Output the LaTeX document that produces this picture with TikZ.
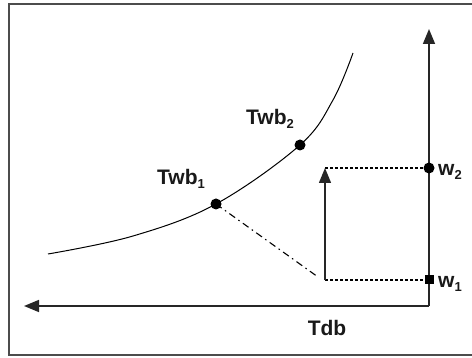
\documentclass[tikz,border=0pt]{standalone}
\usepackage{fontspec}
\setmainfont{Liberation Sans}
\usetikzlibrary{arrows.meta}
\newcommand{\lowsub}[1]{\raisebox{-0.35ex}{\fontsize{13}{14}\selectfont #1}}
\begin{document}
\begin{tikzpicture}[x=1pt,y=-1pt,
  axis/.style={draw=black!85,line width=1.6pt},
  tip/.style={-{Triangle[length=15pt,width=12pt]}},
  curveline/.style={draw=black,line width=1pt},
  dotline/.style={draw=black,line width=1.1pt,dash pattern=on 3pt off 2pt},
  dashdotline/.style={draw=black,line width=1.1pt,dash pattern=on 7pt off 4pt on 1.5pt off 4pt},
  dot/.style={circle,fill=black,inner sep=0pt,minimum size=11pt},
  sq/.style={rectangle,fill=black,inner sep=0pt,minimum size=9pt},
  lbl/.style={font=\fontsize{21}{23}\selectfont\bfseries,text=black!90,inner sep=0pt}]
\useasboundingbox (0,0) rectangle (472,358);
% frame
\draw[draw=black!70,line width=1.8pt] (490,4) -- (9,4) -- (9,355) -- (490,355);
% coordinates
\coordinate (O) at (429,306);
\coordinate (Ytop) at (429,29);
\coordinate (Xend) at (24,306);
\coordinate (D) at (318,277);
\coordinate (A1) at (325,280);
\coordinate (A2) at (325,168);
% axes
\draw[axis,tip] (O) -- (Ytop);
\draw[axis,tip] (O) -- (Xend);
% saturation curve
\draw[curveline] plot[smooth,tension=0.6] coordinates {(48,254) (133,236) (216,204) (300,145) (333,100) (353,53)};
% points
\node[dot] (T1) at (216,204) {};
\node[dot] (T2) at (300,145) {};
\node[dot] (W2) at (429,168) {};
\node[sq] (W1) at (429,280) {};
% dash-dot cooling line
\draw[dashdotline] (T1.center) -- (D);
% dotted horizontal lines
\draw[dotline] (A1) -- (W1.center);
\draw[dotline] (A2) -- (W2.center);
% humidification arrow
\draw[axis,line width=1.4pt,tip] (A1) -- (A2);
% labels
\node[lbl] (L1) at (181,179) {Twb\lowsub{1}};
\node[lbl] (L2) at (270,119) {Twb\lowsub{2}};
\node[lbl] (LW2) at (450,172) {w\lowsub{2}};
\node[lbl] (LW1) at (450,284) {w\lowsub{1}};
\node[lbl] (LT) at (327,328) {Tdb};
\end{tikzpicture}
\end{document}
